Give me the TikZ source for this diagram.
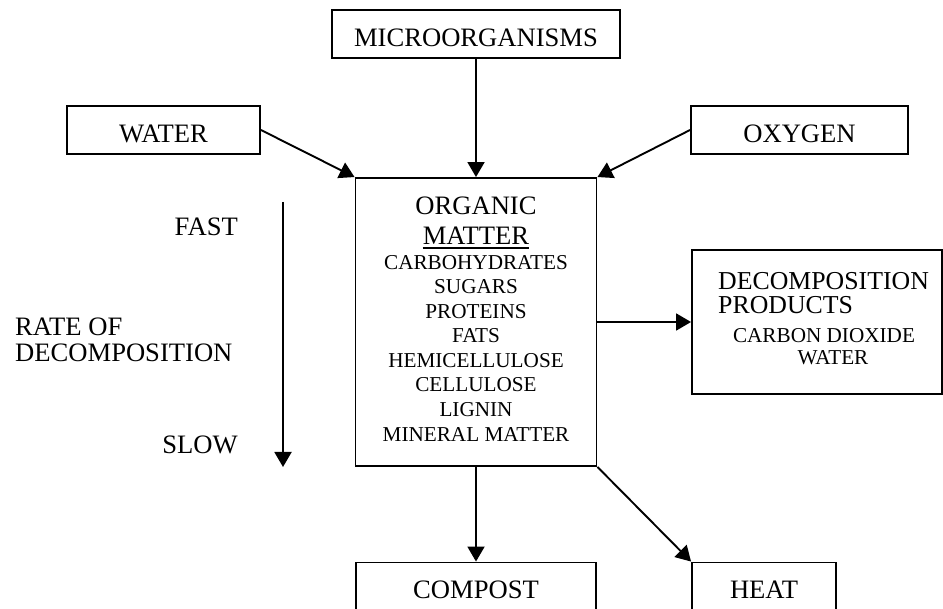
\documentclass[tikz,border=0pt]{standalone}
\usepackage{fontspec}
\setmainfont{Liberation Serif}
\usetikzlibrary{arrows.meta}
\tikzset{
  big/.style={font=\fontsize{26.6}{30}\selectfont, inner sep=0pt},
  mid/.style={font=\fontsize{25.8}{30}\selectfont, inner sep=0pt},
  small/.style={font=\fontsize{21.2}{24}\selectfont, inner sep=0pt},
  box/.style={draw, line width=1.9pt, rectangle, inner sep=0pt, font=\fontsize{26.6}{30}\selectfont},
  boxt/.style={box, text height=25pt, text depth=0pt},
  conn/.style={line width=1.9pt, -{Triangle[length=15pt,width=17pt]}}
}
\begin{document}
\begin{tikzpicture}[x=1pt,y=-1pt]
\useasboundingbox (0,0) rectangle (943,609);
\clip (0,0) rectangle (943,609);
% boxes
\node[boxt, minimum width=288pt, minimum height=48pt] (micro) at (476,34) {MICROORGANISMS};
\node[boxt, minimum width=193pt, minimum height=48pt] (water) at (163.5,130) {WATER};
\node[boxt, minimum width=217pt, minimum height=48pt] (oxygen) at (799.5,130) {OXYGEN};
\node[box, minimum width=241pt, minimum height=288pt] (organic) at (476,322) {};
\node[box, minimum width=250pt, minimum height=144pt] (dec) at (817,322) {};
\node[box, minimum width=240pt, minimum height=55pt] (compost) at (476,590) {COMPOST};
\node[box, minimum width=144pt, minimum height=55pt] (heat) at (764,590) {HEAT};
% organic matter text
\node[big] (t1) at (476,205.7) {ORGANIC};
\node[big] (matter) at (476,235.7) {MATTER};
\draw[line width=1.5pt] ([yshift=-3.5pt]matter.base west) -- ([yshift=-3.5pt]matter.base east);
\node[small] (s1) at (476,263) {CARBOHYDRATES};
\node[small] (s2) at (476,287) {SUGARS};
\node[small] (s3) at (476,311.7) {PROTEINS};
\node[small] (s4) at (476,336) {FATS};
\node[small] (s5) at (476,360.7) {HEMICELLULOSE};
\node[small] (s6) at (476,385) {CELLULOSE};
\node[small] (s7) at (476,410) {LIGNIN};
\node[small] (s8) at (476,435) {MINERAL MATTER};
% decomposition text
\node[mid, anchor=west] (d1) at (718,281) {DECOMPOSITION};
\node[mid, anchor=west] (d2) at (718,305.5) {PRODUCTS};
\node[small] (d3) at (824,336) {CARBON DIOXIDE};
\node[small] (d4) at (833,358) {WATER};
% rate labels
\node[big, anchor=east] (fast) at (238,227) {FAST};
\node[big, anchor=west] (rate1) at (15,327) {RATE OF};
\node[big, anchor=west] (rate2) at (15,353) {DECOMPOSITION};
\node[big, anchor=east] (slow) at (238,445) {SLOW};
\coordinate (rtop) at (283,202);
\coordinate (rbot) at (283,467);
% connectors
\draw[conn] (micro.south) -- (organic.north);
\draw[conn] (water.east) -- (organic.north west);
\draw[conn] (oxygen.west) -- (organic.north east);
\draw[conn] (organic.east) -- (dec.west);
\draw[conn] (organic.south) -- (compost.north);
\draw[conn] (organic.south east) -- (heat.north west);
\draw[conn] (rtop) -- (rbot);
\end{tikzpicture}
\end{document}
